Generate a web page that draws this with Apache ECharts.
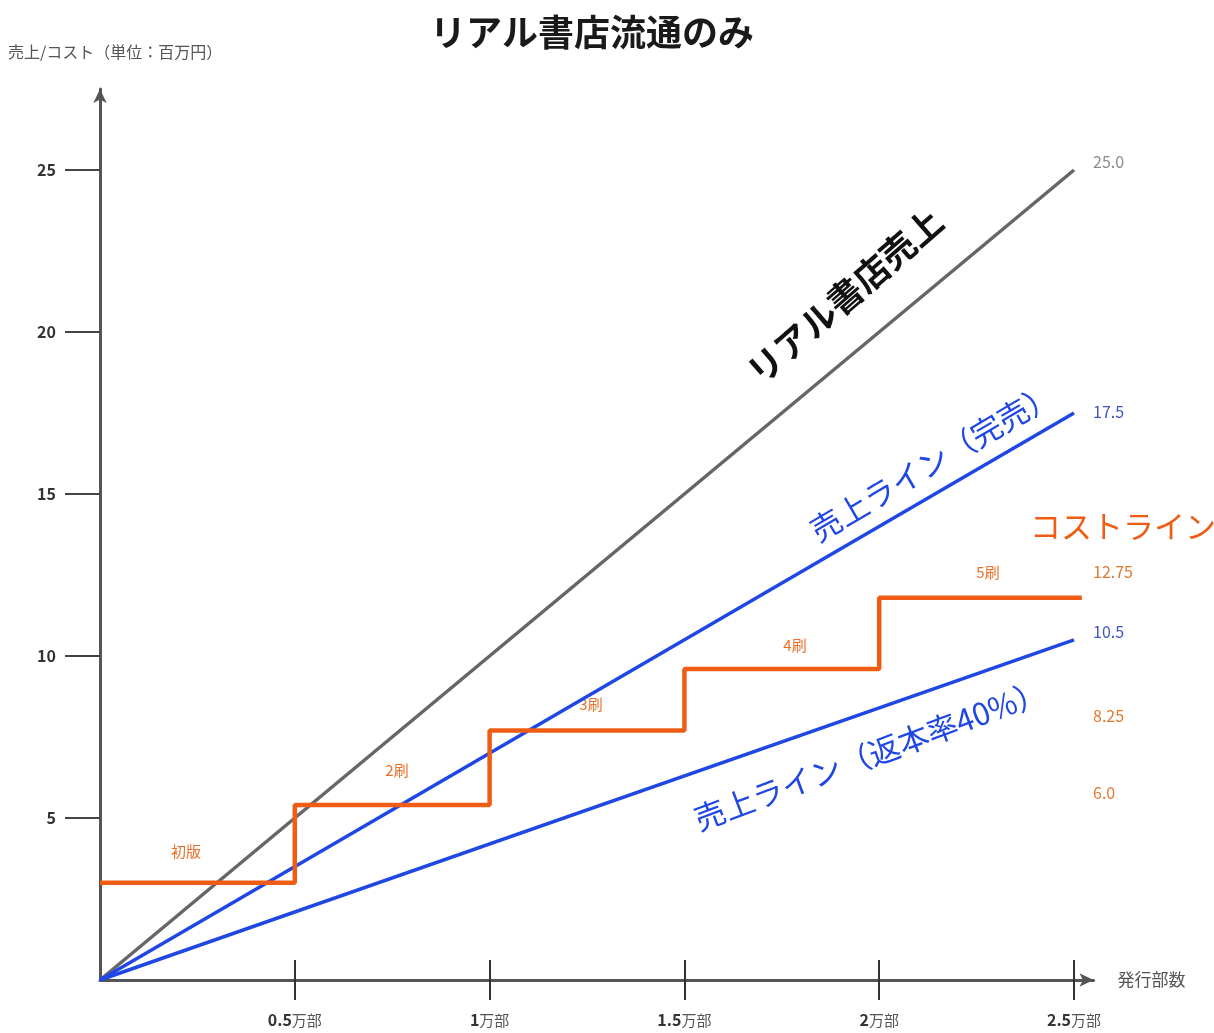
<!DOCTYPE html>
<html>
<head>
<meta charset="utf-8">
<script src="https://cdn.jsdelivr.net/npm/echarts@6/dist/echarts.min.js"></script>
<style>
  html, body { margin: 0; padding: 0; background: #fff; }
  #chart { width: 1214px; height: 1033px; }
</style>
</head>
<body>
<div id="chart"></div>
<script>
// Print runs (万部) and the three revenue lines (百万円)
const printX = [0, 2.5];
const storeSales = [0, 25];        // リアル書店売上
const salesSoldOut = [0, 17.5];    // 売上ライン（完売）
const salesReturn40 = [0, 10.5];   // 売上ライン（返本率40%）

// Cost line: one step per printing
const costX = [0, 0.5, 1, 1.5, 2, 2.52];
const costY = [3.0, 5.4, 7.7, 9.6, 11.8, 11.8];
const printLabels = ['初版', '2刷', '3刷', '4刷', '5刷'];

// Values noted at the right edge
const sideValues = ['25.0', '17.5', '12.75', '10.5', '8.25', '6.0'];

const xTicks = [0.5, 1, 1.5, 2, 2.5];
const yTicks = [5, 10, 15, 20, 25];

const FONT = '"Noto Sans CJK JP", "Noto Sans", sans-serif';
const GRAY = '#666666';
const BLUE = '#1f47e4';
const ORANGE = '#ef5d15';

const pairs = (xs, ys) => xs.map((x, i) => [x, ys[i]]);
const deg = d => d * Math.PI / 180;

const chart = echarts.init(document.getElementById('chart'));

const option = {
  animation: false,
  backgroundColor: '#ffffff',
  textStyle: { fontFamily: FONT },
  grid: { left: 100, top: 89, right: 120.5, bottom: 53 },
  xAxis: [{
    type: 'value', min: 0, max: 2.55, interval: 0.5,
    name: '発行部数', nameLocation: 'end', nameGap: 24,
    nameTextStyle: { color: '#555', fontSize: 17, fontFamily: FONT, verticalAlign: 'middle' },
    axisLine: { lineStyle: { color: '#555', width: 3 }, symbol: ['none', 'arrow'], symbolSize: [10, 14] },
    axisTick: { show: true, length: 20, customValues: xTicks, lineStyle: { color: '#333', width: 2 } },
    splitLine: { show: false },
    axisLabel: {
      margin: 32, customValues: xTicks,
      formatter: v => '{n|' + v + '}{u|万部}',
      rich: {
        n: { fontSize: 16, fontWeight: 'bold', color: '#333', fontFamily: FONT },
        u: { fontSize: 15, color: '#555', fontFamily: FONT }
      }
    }
  }, {
    type: 'value', min: 0, max: 2.55, interval: 0.5, position: 'bottom',
    axisLine: { show: false },
    axisTick: { show: true, inside: true, length: 20, customValues: xTicks, lineStyle: { color: '#333', width: 2 } },
    axisLabel: { show: false }, splitLine: { show: false }
  }],
  yAxis: {
    type: 'value', min: 0, max: 27.5, interval: 5,
    axisLine: { lineStyle: { color: '#555', width: 3 }, symbol: ['none', 'arrow'], symbolSize: [10, 14] },
    axisTick: { show: true, length: 35, customValues: yTicks, lineStyle: { color: '#444', width: 2 } },
    splitLine: { show: false },
    axisLabel: {
      margin: 44, customValues: yTicks,
      fontSize: 16, fontWeight: 'bold', color: '#333', fontFamily: FONT
    }
  },
  series: [
    {
      type: 'line', name: 'リアル書店売上', data: pairs(printX, storeSales),
      symbol: 'none', lineStyle: { color: GRAY, width: 3.5 }, z: 3
    },
    {
      type: 'line', name: '売上ライン（完売）', data: pairs(printX, salesSoldOut),
      symbol: 'none', lineStyle: { color: BLUE, width: 3.5 }, z: 4
    },
    {
      type: 'line', name: '売上ライン（返本率40%）', data: pairs(printX, salesReturn40),
      symbol: 'none', lineStyle: { color: BLUE, width: 3.5 }, z: 4
    },
    {
      type: 'line', name: 'コストライン', data: pairs(costX, costY), step: 'end',
      symbol: 'none', lineStyle: { color: ORANGE, width: 4.5 }, z: 5
    }
  ],
  graphic: [
    { type: 'text', x: 592, y: 32, z: 10,
      style: { text: 'リアル書店流通のみ', fontSize: 36, fontWeight: 'bold', fill: '#1a1a1a', fontFamily: FONT, textAlign: 'center', textVerticalAlign: 'middle' } },
    { type: 'text', x: 8, y: 52, z: 10,
      style: { text: '売上/コスト（単位：百万円）', fontSize: 16, fill: '#555', fontFamily: FONT, textVerticalAlign: 'middle' } },

    // Line annotations, set along each line
    { type: 'text', x: 845, y: 296, rotation: deg(41), z: 10,
      style: { text: 'リアル書店売上', fontSize: 35, fontWeight: 'bold', fill: '#111', fontFamily: FONT, textAlign: 'center', textVerticalAlign: 'middle' } },
    { type: 'text', x: 933, y: 462, rotation: deg(30.5), z: 10,
      style: { text: '売上ライン（完売）', fontSize: 31, fill: BLUE, fontFamily: FONT, textAlign: 'center', textVerticalAlign: 'middle' } },
    { type: 'text', x: 870, y: 755, rotation: deg(20.5), z: 10,
      style: { text: '売上ライン（返本率40%）', fontSize: 31, fill: BLUE, fontFamily: FONT, textAlign: 'center', textVerticalAlign: 'middle' } },
    { type: 'text', x: 1030, y: 526, z: 10,
      style: { text: 'コストライン', fontSize: 31, fill: ORANGE, fontFamily: FONT, textVerticalAlign: 'middle' } },

    // Printing labels above each step
    { type: 'text', x: 186, y: 851, style: { text: printLabels[0], fontSize: 15, fill: '#e8702a', fontFamily: FONT, textAlign: 'center', textVerticalAlign: 'middle' } },
    { type: 'text', x: 397, y: 770, style: { text: printLabels[1], fontSize: 15, fill: '#e8702a', fontFamily: FONT, textAlign: 'center', textVerticalAlign: 'middle' } },
    { type: 'text', x: 591, y: 704, style: { text: printLabels[2], fontSize: 15, fill: '#e8702a', fontFamily: FONT, textAlign: 'center', textVerticalAlign: 'middle' } },
    { type: 'text', x: 795, y: 645, style: { text: printLabels[3], fontSize: 15, fill: '#e8702a', fontFamily: FONT, textAlign: 'center', textVerticalAlign: 'middle' } },
    { type: 'text', x: 988, y: 572, style: { text: printLabels[4], fontSize: 15, fill: '#e8702a', fontFamily: FONT, textAlign: 'center', textVerticalAlign: 'middle' } },

    // Values at the right edge
    { type: 'text', x: 1093, y: 162, style: { text: sideValues[0], fontSize: 16, fill: '#8a8a8a', fontFamily: FONT, textVerticalAlign: 'middle' } },
    { type: 'text', x: 1093, y: 412, style: { text: sideValues[1], fontSize: 16, fill: '#3d55c0', fontFamily: FONT, textVerticalAlign: 'middle' } },
    { type: 'text', x: 1093, y: 572, style: { text: sideValues[2], fontSize: 16, fill: '#e07a30', fontFamily: FONT, textVerticalAlign: 'middle' } },
    { type: 'text', x: 1093, y: 632, style: { text: sideValues[3], fontSize: 16, fill: '#3d55c0', fontFamily: FONT, textVerticalAlign: 'middle' } },
    { type: 'text', x: 1093, y: 716, style: { text: sideValues[4], fontSize: 16, fill: '#e07a30', fontFamily: FONT, textVerticalAlign: 'middle' } },
    { type: 'text', x: 1093, y: 793, style: { text: sideValues[5], fontSize: 16, fill: '#e07a30', fontFamily: FONT, textVerticalAlign: 'middle' } }
  ]
};

chart.setOption(option);
</script>
</body>
</html>
